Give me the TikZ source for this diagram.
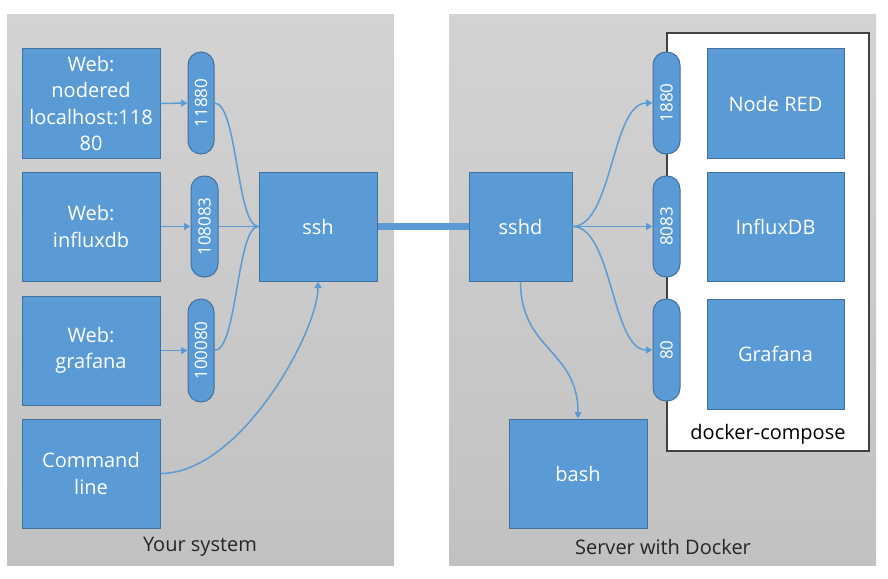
\documentclass[tikz,border=0pt]{standalone}
\usepackage{fontspec}
\setmainfont{Open Sans}
\usetikzlibrary{arrows.meta}
\definecolor{boxblue}{HTML}{5B9BD5}
\definecolor{boxedge}{HTML}{41719C}
\definecolor{paneltop}{HTML}{D3D3D3}
\definecolor{panelbot}{HTML}{C1C1C1}
\definecolor{labelgray}{HTML}{262626}
\tikzset{
  panel/.style={shade, top color=paneltop, bottom color=panelbot, draw=none, inner sep=0pt},
  bluebox/.style={draw=boxedge, fill=boxblue, line width=1pt, text=white, align=center, inner sep=0pt,
    font=\fontsize{20}{26.5}\selectfont},
  pill/.style={draw=boxedge, fill=boxblue, line width=1pt, text=white, inner sep=0pt,
    minimum width=26, rounded corners=13, font=\fontsize{17}{20}\selectfont},
  conn/.style={draw=boxblue, line width=1.5pt},
  arr/.style={conn, -{Triangle[length=6.5pt,width=7pt]}},
  lbl/.style={text=labelgray, inner sep=0pt, font=\fontsize{20}{24}\selectfont},
}
\begin{document}
\begin{tikzpicture}[x=1pt,y=-1pt]
\useasboundingbox (0,0) rectangle (888,578);
% panels
\node[panel, minimum width=387, minimum height=550] (sys) at (200.5,290) {};
\node[panel, minimum width=427, minimum height=550] (srv) at (662.5,290) {};
\node[draw=black!75, fill=white, line width=1.3pt, minimum width=202, minimum height=418, inner sep=0pt] (dc) at (768,242) {};
% left boxes
\node[bluebox, minimum width=138, minimum height=109] (nr) at (91,103.5) {Web:\\nodered\\localhost:118\\80};
\node[bluebox, minimum width=138, minimum height=109] (ix) at (91,226.5) {Web:\\influxdb};
\node[bluebox, minimum width=138, minimum height=109] (gf) at (91,350.5) {Web:\\grafana};
\node[bluebox, minimum width=138, minimum height=109] (cmd) at (91,473.5) {Command\\line};
% left pills
\node[pill, minimum height=102] (p1) at (201,103) {\rotatebox{90}{11880}};
\node[pill, minimum width=27, minimum height=101] (p2) at (204.5,226.5) {\rotatebox{90}{108083}};
\node[pill, minimum height=103] (p3) at (201,350.5) {\rotatebox{90}{100080}};
% ssh / sshd
\node[bluebox, minimum width=118, minimum height=109] (ssh) at (318,226.5) {ssh};
\node[bluebox, minimum width=103, minimum height=109] (sshd) at (520.5,226.5) {sshd};
\node[bluebox, minimum width=138, minimum height=109] (bash) at (578,473.5) {bash};
% right pills
\node[pill, minimum width=27, minimum height=102] (q1) at (666.5,103) {\rotatebox{90}{1880}};
\node[pill, minimum width=27, minimum height=101] (q2) at (666.5,226.5) {\rotatebox{90}{8083}};
\node[pill, minimum width=27, minimum height=102] (q3) at (666.5,350) {\rotatebox{90}{80}};
% containers
\node[bluebox, minimum width=137, minimum height=109] (red) at (775.5,103.5) {Node RED};
\node[bluebox, minimum width=137, minimum height=109] (idb) at (775.5,226.5) {InfluxDB};
\node[bluebox, minimum width=137, minimum height=110] (gra) at (775.5,354) {Grafana};
% labels
\node[lbl] (l1) at (200,547) {Your system};
\node[lbl] (l2) at (663,547) {Server with Docker};
\node[lbl, text=black] (l3) at (768,434) {docker-compose};
% connectors left
\draw[arr] (nr.east) -- (p1.west);
\draw[arr] (ix.east) -- (p2.west);
\draw[arr] (gf.east) -- (p3.west);
\draw[conn] (p1.east) .. controls +(23,0) and +(-22,0) .. (ssh.west);
\draw[conn] (p2.east) -- (ssh.west);
\draw[conn] (p3.east) .. controls +(23,0) and +(-22,0) .. (ssh.west);
\draw[arr] (cmd.east) .. controls +(80,0) and +(0,50) .. (ssh.south);
% tunnel
\draw[draw=boxblue, line width=7pt] (ssh.east) -- (sshd.west);
% connectors right
\draw[arr] (sshd.east) .. controls +(40,0) and +(-41,0) .. (q1.west);
\draw[arr] (sshd.east) -- (q2.west);
\draw[arr] (sshd.east) .. controls +(40,0) and +(-41,0) .. (q3.west);
\draw[arr] (sshd.south) .. controls +(0,69) and +(0,-69) .. (bash.north);
\end{tikzpicture}
\end{document}
